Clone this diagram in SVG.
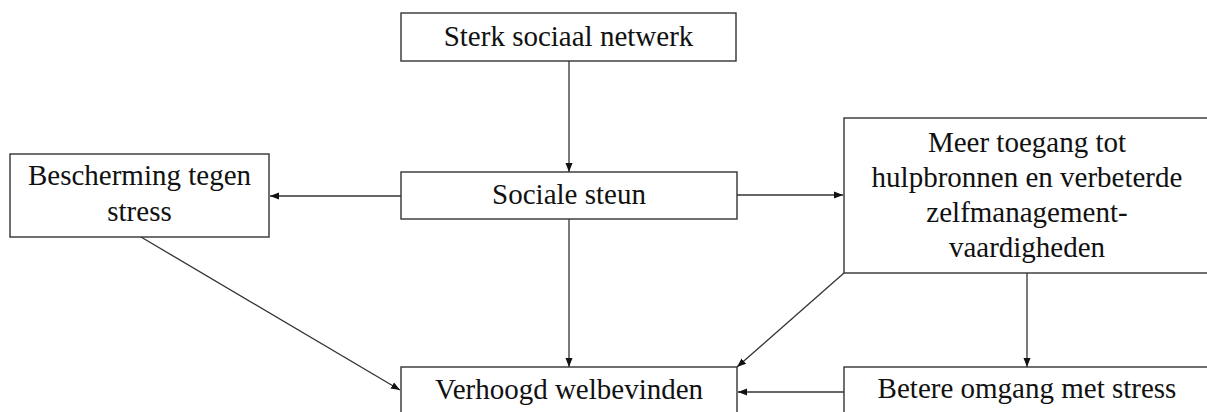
<svg xmlns="http://www.w3.org/2000/svg" width="1207" height="412" viewBox="0 0 1207 412">
<style>
.box{fill:#fff;stroke:#333;stroke-width:1.4}
.t{font-family:'Liberation Serif','DejaVu Serif',serif;font-size:29px;fill:#111;text-anchor:middle}
.c{stroke:#333;stroke-width:1.3;fill:none;marker-end:url(#ah)}
</style>
<defs>
<marker id="ah" markerUnits="userSpaceOnUse" markerWidth="10" markerHeight="8" refX="9" refY="4" orient="auto">
<path d="M0,0.5 L9,4 L0,7.5 z" fill="#111"/>
</marker>
</defs>
<rect width="1207" height="412" fill="#fff"/>
<g id="connectors">
<line class="c" x1="569" y1="61" x2="569" y2="172"/>
<line class="c" x1="401" y1="196" x2="270" y2="196"/>
<line class="c" x1="737" y1="195" x2="843" y2="195"/>
<line class="c" x1="569" y1="219" x2="569" y2="367"/>
<line class="c" x1="141" y1="237" x2="400" y2="390"/>
<line class="c" x1="844" y1="273" x2="737" y2="367"/>
<line class="c" x1="1027" y1="273" x2="1027" y2="367"/>
<line class="c" x1="844" y1="392" x2="738" y2="392"/>
</g>
<g id="n-netwerk">
<rect class="box" x="401" y="13" width="335" height="48"/>
<text class="t" x="568.5" y="46">Sterk sociaal netwerk</text>
</g>
<g id="n-steun">
<rect class="box" x="401" y="172" width="336" height="47"/>
<text class="t" x="569" y="204">Sociale steun</text>
</g>
<g id="n-bescherming">
<rect class="box" x="10" y="154" width="259" height="83"/>
<text class="t" x="139.5" y="185">Bescherming tegen</text>
<text class="t" x="139.5" y="221">stress</text>
</g>
<g id="n-toegang">
<rect class="box" x="844" y="118" width="370" height="155"/>
<text class="t" x="1027" y="152">Meer toegang tot</text>
<text class="t" x="1027" y="187">hulpbronnen en verbeterde</text>
<text class="t" x="1027" y="222">zelfmanagement-</text>
<text class="t" x="1027" y="257">vaardigheden</text>
</g>
<g id="n-welbevinden">
<rect class="box" x="401" y="367" width="336" height="60"/>
<text class="t" x="569" y="399">Verhoogd welbevinden</text>
</g>
<g id="n-betere">
<rect class="box" x="844" y="367" width="370" height="60"/>
<text class="t" x="1027" y="398">Betere omgang met stress</text>
</g>
</svg>
